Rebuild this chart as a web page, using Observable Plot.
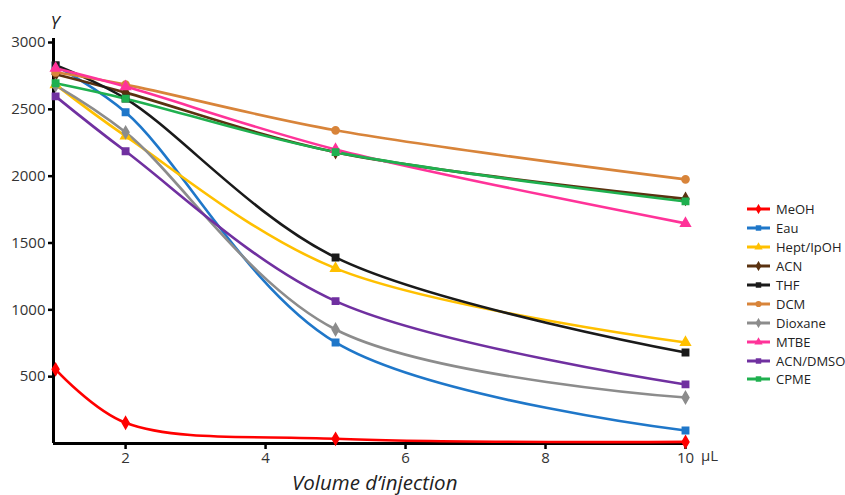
<!DOCTYPE html>
<html><head><meta charset="utf-8">
<script src="https://cdn.jsdelivr.net/npm/d3@7"></script>
<script src="https://cdn.jsdelivr.net/npm/@observablehq/plot@0.6"></script>
<style>
body{margin:0;background:#fff;font-family:"Open Sans",sans-serif;}
#wrap{position:relative;width:845px;height:495px;overflow:hidden;}
#legend{position:absolute;left:746px;top:200px;font-size:13px;color:#222;}
.li{display:flex;align-items:center;height:18.9px;white-space:nowrap;}
.li svg{margin-right:5px;}
</style></head><body>
<div id="wrap"><div id="chart"></div><div id="legend"></div></div>
<script>
const volumes = [1, 2, 5, 10];
const series = ["MeOH","Eau","Hept/IpOH","ACN","THF","DCM","Dioxane","MTBE","ACN/DMSO","CPME"];
const colors = ["#ff0000","#1f77c9","#ffc000","#5a3210","#1a1a1a","#d8843a","#8c8c8c","#ff3399","#7030a0","#1fb04f"];
const symbols = ["diamond","square","triangle","diamond","square","circle","diamond","triangle","square","square"];
const MeOH = [555, 155, 35, 12];
const Eau = [2825, 2478, 756, 97];
const HeptIpOH = [2685, 2300, 1310, 756];
const ACN = [2762, 2625, 2180, 1830];
const THF = [2830, 2580, 1392, 681];
const DCM = [2777, 2685, 2343, 1976];
const Dioxane = [2680, 2328, 853, 344];
const MTBE = [2807, 2670, 2200, 1647];
const ACN_DMSO = [2597, 2186, 1065, 442];
const CPME = [2695, 2580, 2180, 1811];
const yTicks = [500, 1000, 1500, 2000, 2500, 3000];
const xTicks = [2, 4, 6, 8, 10];

const valuesBySeries = [MeOH, Eau, HeptIpOH, ACN, THF, DCM, Dioxane, MTBE, ACN_DMSO, CPME];
const data = [];
series.forEach((s, i) => valuesBySeries[i].forEach((v, j) => data.push({series: s, x: volumes[j], y: v})));

const font = '"Open Sans", sans-serif';
const chart = Plot.plot({
  width: 845, height: 495,
  marginLeft: 53, marginRight: 160, marginTop: 42, marginBottom: 52,
  style: {fontFamily: font, fontSize: "14px", color: "#333", background: "transparent"},
  x: {domain: [0.97, 10], axis: null},
  y: {domain: [0, 3000], axis: null},
  color: {domain: series, range: colors},
  symbol: {domain: series, range: symbols},
  marks: [
    Plot.axisX(xTicks, {tickSize: 6, tickPadding: 3, strokeWidth: 2.5, stroke: "#000", fill: "#333", fontSize: 15, tickFormat: d => String(d), label: null}),
    Plot.axisY(yTicks, {tickSize: 5, tickPadding: 3, strokeWidth: 2.5, stroke: "#000", fill: "#333", fontSize: 15, tickFormat: d => String(d), label: null}),
    Plot.ruleY([0], {stroke: "#000", strokeWidth: 3}),
    Plot.ruleX([0.97], {y1: 0, y2: 3030, stroke: "#000", strokeWidth: 3}),
    Plot.text([10], {x: d => d, frameAnchor: "bottom", dx: 24, dy: 17, text: () => "µL", fontSize: 15, fill: "#333"}),
    Plot.text(["Y"], {frameAnchor: "top-left", lineAnchor: "bottom", dx: -3, dy: -14, text: d => d, fontSize: 18, fontStyle: "italic", fill: "#222"}),
    Plot.text(["Volume d’injection"], {x: () => 5.56, frameAnchor: "bottom", lineAnchor: "bottom", dy: 46, text: d => d, fontSize: 20.5, fontStyle: "italic", fill: "#222"}),
    Plot.line(data, {x: "x", y: "y", z: "series", stroke: "series", strokeWidth: 2.6, curve: "catmull-rom"}),
    Plot.dot(data, {x: "x", y: "y", fill: "series", stroke: "series", symbol: "series", r: 3.6})
  ]
});
document.getElementById("chart").appendChild(chart);

const leg = document.getElementById("legend");
series.forEach((s, i) => {
  const row = document.createElement("div");
  row.className = "li";
  const sym = d3.symbol(symbols[i] === "diamond" ? d3.symbolDiamond : symbols[i] === "square" ? d3.symbolSquare : symbols[i] === "triangle" ? d3.symbolTriangle : d3.symbolCircle, 30)();
  row.innerHTML = `<svg width="25" height="10"><line x1="1" x2="24" y1="5" y2="5" stroke="${colors[i]}" stroke-width="3"/><path transform="translate(12.5,5)" d="${sym}" fill="${colors[i]}"/></svg><span>${s}</span>`;
  leg.appendChild(row);
});
</script>
</body></html>
